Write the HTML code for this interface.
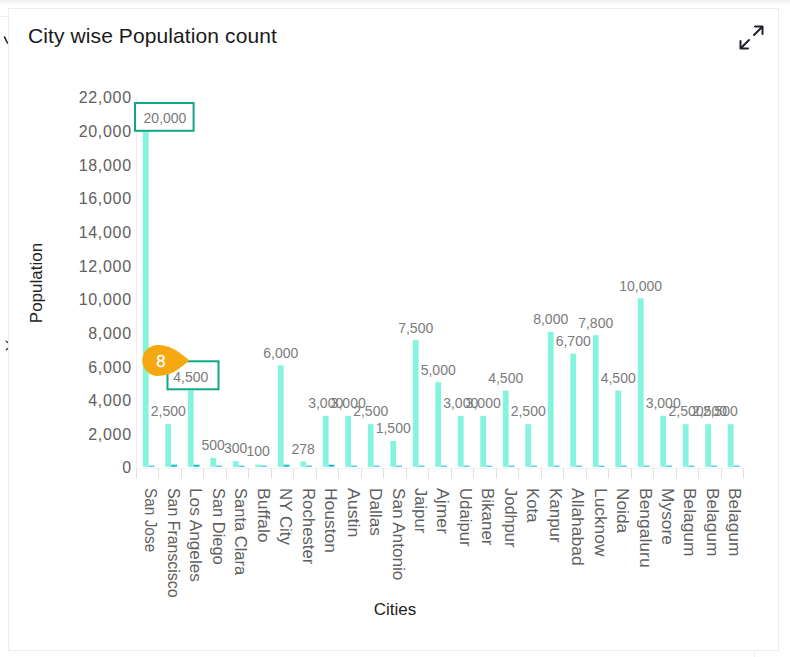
<!DOCTYPE html>
<html><head><meta charset="utf-8"><style>
html,body{margin:0;padding:0;background:#fff;}
body{width:790px;height:657px;position:relative;overflow:hidden;font-family:"Liberation Sans",sans-serif;}
.topbar{position:absolute;left:0;top:0;width:790px;height:5px;background:linear-gradient(#efefef,#f4f4f4 30%,#fff);}
.hline{position:absolute;left:0;top:16px;width:8px;height:1px;background:#eef0f0;}
.vline{position:absolute;left:754px;top:651px;width:1px;height:6px;background:#eef0f0;}
.card{position:absolute;left:8px;top:8px;width:769px;height:641px;border:1px solid #eceeee;background:#fff;}
.title{position:absolute;left:28px;top:24px;font-size:21px;letter-spacing:0.1px;color:#1a1a1a;white-space:nowrap;line-height:24px;}
svg.chart{position:absolute;left:0;top:0;}
.yl{font-family:"Liberation Sans",sans-serif;font-size:16px;fill:#606060;text-anchor:end;letter-spacing:0.7px;}
.xl{font-family:"Liberation Sans",sans-serif;font-size:16.5px;fill:#606060;}
.dl{font-family:"Liberation Sans",sans-serif;font-size:14px;fill:#7b7b7b;text-anchor:middle;}
.dr{font-family:"Liberation Sans",sans-serif;font-size:16.8px;fill:#fff;stroke:#fff;stroke-width:0.3px;text-anchor:middle;}
.at{font-family:"Liberation Sans",sans-serif;font-size:17px;fill:#222;}
.mark{position:absolute;}
</style></head><body>
<div class="topbar"></div>
<div class="hline"></div>
<div class="vline"></div>
<svg class="mark" style="left:3px;top:35px" width="6" height="10" viewBox="0 0 6 10"><path d="M1.5 2 L4.5 8" stroke="#222" stroke-width="1.6" stroke-linecap="round"/></svg>
<svg class="mark" style="left:3px;top:339px" width="6" height="14" viewBox="0 0 6 14"><path d="M3.3 2.3 L4.8 3.6 M4.8 9.4 L3.3 10.7" stroke="#333" stroke-width="1.3" stroke-linecap="round"/></svg>
<div class="card"></div>
<div class="title">City wise Population count</div>
<svg class="mark" style="left:732px;top:18px" width="40" height="40" viewBox="0 0 40 40" fill="none" stroke="#1f2329" stroke-width="2" stroke-linecap="round" stroke-linejoin="round">
<path d="M23 8.5 H30.5 V16 M30.5 8.5 L22 17"/>
<path d="M16 30.5 H8.5 V23 M8.5 30.5 L17 22"/>
</svg>
<svg class="chart" width="790" height="657" viewBox="0 0 790 657">
<text x="131.8" y="473.4" class="yl">0</text>
<text x="131.8" y="439.8" class="yl">2,000</text>
<text x="131.8" y="406.1" class="yl">4,000</text>
<text x="131.8" y="372.5" class="yl">6,000</text>
<text x="131.8" y="338.9" class="yl">8,000</text>
<text x="131.8" y="305.2" class="yl">10,000</text>
<text x="131.8" y="271.6" class="yl">12,000</text>
<text x="131.8" y="237.9" class="yl">14,000</text>
<text x="131.8" y="204.3" class="yl">16,000</text>
<text x="131.8" y="170.7" class="yl">18,000</text>
<text x="131.8" y="137.0" class="yl">20,000</text>
<text x="131.8" y="103.4" class="yl">22,000</text>
<rect x="136" y="97" width="1" height="371.7" fill="#f0f0f0"/>
<rect x="136" y="468" width="608.7" height="1" fill="#f3f3f3"/>
<rect x="136" y="468" width="1" height="10" fill="#e0e0e0"/>
<rect x="158" y="468" width="1" height="10" fill="#e0e0e0"/>
<rect x="181" y="468" width="1" height="10" fill="#e0e0e0"/>
<rect x="203" y="468" width="1" height="10" fill="#e0e0e0"/>
<rect x="226" y="468" width="1" height="10" fill="#e0e0e0"/>
<rect x="248" y="468" width="1" height="10" fill="#e0e0e0"/>
<rect x="271" y="468" width="1" height="10" fill="#e0e0e0"/>
<rect x="293" y="468" width="1" height="10" fill="#e0e0e0"/>
<rect x="316" y="468" width="1" height="10" fill="#e0e0e0"/>
<rect x="338" y="468" width="1" height="10" fill="#e0e0e0"/>
<rect x="361" y="468" width="1" height="10" fill="#e0e0e0"/>
<rect x="383" y="468" width="1" height="10" fill="#e0e0e0"/>
<rect x="406" y="468" width="1" height="10" fill="#e0e0e0"/>
<rect x="428" y="468" width="1" height="10" fill="#e0e0e0"/>
<rect x="451" y="468" width="1" height="10" fill="#e0e0e0"/>
<rect x="473" y="468" width="1" height="10" fill="#e0e0e0"/>
<rect x="496" y="468" width="1" height="10" fill="#e0e0e0"/>
<rect x="518" y="468" width="1" height="10" fill="#e0e0e0"/>
<rect x="541" y="468" width="1" height="10" fill="#e0e0e0"/>
<rect x="563" y="468" width="1" height="10" fill="#e0e0e0"/>
<rect x="586" y="468" width="1" height="10" fill="#e0e0e0"/>
<rect x="608" y="468" width="1" height="10" fill="#e0e0e0"/>
<rect x="631" y="468" width="1" height="10" fill="#e0e0e0"/>
<rect x="653" y="468" width="1" height="10" fill="#e0e0e0"/>
<rect x="676" y="468" width="1" height="10" fill="#e0e0e0"/>
<rect x="698" y="468" width="1" height="10" fill="#e0e0e0"/>
<rect x="721" y="468" width="1" height="10" fill="#e0e0e0"/>
<rect x="743" y="468" width="1" height="10" fill="#e0e0e0"/>
<rect x="142.84" y="130.20" width="5.8" height="336.60" fill="#85f4de"/>
<rect x="148.64" y="465.70" width="5.9" height="1" fill="#13b7d3"/>
<rect x="165.34" y="424.20" width="5.8" height="42.60" fill="#85f4de"/>
<rect x="171.14" y="464.70" width="5.9" height="2" fill="#13b7d3"/>
<rect x="187.84" y="390.60" width="5.8" height="76.20" fill="#85f4de"/>
<rect x="193.64" y="464.70" width="5.9" height="2" fill="#13b7d3"/>
<rect x="210.33" y="457.80" width="5.8" height="9.00" fill="#85f4de"/>
<rect x="216.13" y="465.70" width="5.9" height="1" fill="#13b7d3"/>
<rect x="232.83" y="461.16" width="5.8" height="5.64" fill="#85f4de"/>
<rect x="238.63" y="465.70" width="5.9" height="1" fill="#13b7d3"/>
<rect x="255.33" y="464.52" width="5.8" height="2.28" fill="#85f4de"/>
<rect x="261.13" y="465.70" width="5.9" height="1" fill="#13b7d3"/>
<rect x="277.83" y="365.40" width="5.8" height="101.40" fill="#85f4de"/>
<rect x="283.63" y="464.70" width="5.9" height="2" fill="#13b7d3"/>
<rect x="300.33" y="461.53" width="5.8" height="5.27" fill="#85f4de"/>
<rect x="306.13" y="465.70" width="5.9" height="1" fill="#13b7d3"/>
<rect x="322.82" y="415.80" width="5.8" height="51.00" fill="#85f4de"/>
<rect x="328.62" y="464.70" width="5.9" height="2" fill="#13b7d3"/>
<rect x="345.32" y="415.80" width="5.8" height="51.00" fill="#85f4de"/>
<rect x="351.12" y="465.70" width="5.9" height="1" fill="#13b7d3"/>
<rect x="367.82" y="424.20" width="5.8" height="42.60" fill="#85f4de"/>
<rect x="373.62" y="465.70" width="5.9" height="1" fill="#13b7d3"/>
<rect x="390.32" y="441.00" width="5.8" height="25.80" fill="#85f4de"/>
<rect x="396.12" y="465.70" width="5.9" height="1" fill="#13b7d3"/>
<rect x="412.82" y="340.20" width="5.8" height="126.60" fill="#85f4de"/>
<rect x="418.62" y="465.70" width="5.9" height="1" fill="#13b7d3"/>
<rect x="435.31" y="382.20" width="5.8" height="84.60" fill="#85f4de"/>
<rect x="441.11" y="465.70" width="5.9" height="1" fill="#13b7d3"/>
<rect x="457.81" y="415.80" width="5.8" height="51.00" fill="#85f4de"/>
<rect x="463.61" y="465.70" width="5.9" height="1" fill="#13b7d3"/>
<rect x="480.31" y="415.80" width="5.8" height="51.00" fill="#85f4de"/>
<rect x="486.11" y="465.70" width="5.9" height="1" fill="#13b7d3"/>
<rect x="502.81" y="390.60" width="5.8" height="76.20" fill="#85f4de"/>
<rect x="508.61" y="465.70" width="5.9" height="1" fill="#13b7d3"/>
<rect x="525.31" y="424.20" width="5.8" height="42.60" fill="#85f4de"/>
<rect x="531.11" y="465.70" width="5.9" height="1" fill="#13b7d3"/>
<rect x="547.80" y="331.80" width="5.8" height="135.00" fill="#85f4de"/>
<rect x="553.60" y="465.70" width="5.9" height="1" fill="#13b7d3"/>
<rect x="570.30" y="353.64" width="5.8" height="113.16" fill="#85f4de"/>
<rect x="576.10" y="465.70" width="5.9" height="1" fill="#13b7d3"/>
<rect x="592.80" y="335.16" width="5.8" height="131.64" fill="#85f4de"/>
<rect x="598.60" y="465.70" width="5.9" height="1" fill="#13b7d3"/>
<rect x="615.30" y="390.60" width="5.8" height="76.20" fill="#85f4de"/>
<rect x="621.10" y="465.70" width="5.9" height="1" fill="#13b7d3"/>
<rect x="637.80" y="298.20" width="5.8" height="168.60" fill="#85f4de"/>
<rect x="643.60" y="465.70" width="5.9" height="1" fill="#13b7d3"/>
<rect x="660.29" y="415.80" width="5.8" height="51.00" fill="#85f4de"/>
<rect x="666.09" y="465.70" width="5.9" height="1" fill="#13b7d3"/>
<rect x="682.79" y="424.20" width="5.8" height="42.60" fill="#85f4de"/>
<rect x="688.59" y="465.70" width="5.9" height="1" fill="#13b7d3"/>
<rect x="705.29" y="424.20" width="5.8" height="42.60" fill="#85f4de"/>
<rect x="711.09" y="465.70" width="5.9" height="1" fill="#13b7d3"/>
<rect x="727.79" y="424.20" width="5.8" height="42.60" fill="#85f4de"/>
<rect x="733.59" y="465.70" width="5.9" height="1" fill="#13b7d3"/>
<text x="168.24" y="416.3" class="dl">2,500</text>
<text x="213.23" y="449.7" class="dl">500</text>
<text x="235.73" y="453.1" class="dl">300</text>
<text x="258.23" y="456.4" class="dl">100</text>
<text x="280.73" y="357.8" class="dl">6,000</text>
<text x="303.23" y="453.5" class="dl">278</text>
<text x="325.72" y="407.9" class="dl">3,000</text>
<text x="348.22" y="407.9" class="dl">3,000</text>
<text x="370.72" y="416.3" class="dl">2,500</text>
<text x="393.22" y="433.0" class="dl">1,500</text>
<text x="415.72" y="332.7" class="dl">7,500</text>
<text x="438.21" y="374.5" class="dl">5,000</text>
<text x="460.71" y="407.9" class="dl">3,000</text>
<text x="483.21" y="407.9" class="dl">3,000</text>
<text x="505.71" y="382.9" class="dl">4,500</text>
<text x="528.21" y="416.3" class="dl">2,500</text>
<text x="550.70" y="324.4" class="dl">8,000</text>
<text x="573.20" y="346.1" class="dl">6,700</text>
<text x="595.70" y="327.7" class="dl">7,800</text>
<text x="618.20" y="382.9" class="dl">4,500</text>
<text x="640.70" y="290.9" class="dl">10,000</text>
<text x="663.19" y="407.9" class="dl">3,000</text>
<text x="686.00" y="416.3" class="dl">2,500</text>
<text x="709.60" y="416.3" class="dl">2,500</text>
<text x="720.20" y="416.3" class="dl">2,500</text>
<rect x="135" y="103" width="58.6" height="27.8" fill="#fff" stroke="#10a788" stroke-width="2"/>
<text x="165" y="123" class="dl">20,000</text>
<rect x="167.5" y="361.3" width="51" height="28" fill="#fff" stroke="#10a788" stroke-width="2"/>
<text x="190.8" y="382.2" class="dl">4,500</text>
<path d="M189.5 360.4 C182 355 174 346 159.5 345 A15.5 15.5 0 1 0 159.5 375.8 C174 375 182 366 189.5 360.4 Z" fill="#f5a80f"/>
<text x="161" y="366.9" class="dr">8</text>
<text transform="translate(145.49,488.0) rotate(90)" class="xl" textLength="64.2" lengthAdjust="spacingAndGlyphs">San Jose</text>
<text transform="translate(167.95,488.0) rotate(90)" class="xl" textLength="109.6" lengthAdjust="spacingAndGlyphs">San Franscisco</text>
<text transform="translate(190.41,488.0) rotate(90)" class="xl" textLength="94.0" lengthAdjust="spacingAndGlyphs">Los Angeles</text>
<text transform="translate(212.86,488.0) rotate(90)" class="xl" textLength="76.7" lengthAdjust="spacingAndGlyphs">San Diego</text>
<text transform="translate(235.32,488.0) rotate(90)" class="xl" textLength="87.2" lengthAdjust="spacingAndGlyphs">Santa Clara</text>
<text transform="translate(257.78,488.0) rotate(90)" class="xl" textLength="54.7" lengthAdjust="spacingAndGlyphs">Buffalo</text>
<text transform="translate(280.24,488.0) rotate(90)" class="xl" textLength="57.0" lengthAdjust="spacingAndGlyphs">NY City</text>
<text transform="translate(302.70,488.0) rotate(90)" class="xl" textLength="76.4" lengthAdjust="spacingAndGlyphs">Rochester</text>
<text transform="translate(325.15,488.0) rotate(90)" class="xl" textLength="64.9" lengthAdjust="spacingAndGlyphs">Houston</text>
<text transform="translate(347.61,488.0) rotate(90)" class="xl" textLength="49.3" lengthAdjust="spacingAndGlyphs">Austin</text>
<text transform="translate(370.07,488.0) rotate(90)" class="xl" textLength="47.9" lengthAdjust="spacingAndGlyphs">Dallas</text>
<text transform="translate(392.53,488.0) rotate(90)" class="xl" textLength="92.2" lengthAdjust="spacingAndGlyphs">San Antonio</text>
<text transform="translate(414.99,488.0) rotate(90)" class="xl" textLength="45.3" lengthAdjust="spacingAndGlyphs">Jaipur</text>
<text transform="translate(437.44,488.0) rotate(90)" class="xl" textLength="46.0" lengthAdjust="spacingAndGlyphs">Ajmer</text>
<text transform="translate(459.90,488.0) rotate(90)" class="xl" textLength="58.7" lengthAdjust="spacingAndGlyphs">Udaipur</text>
<text transform="translate(482.36,488.0) rotate(90)" class="xl" textLength="57.5" lengthAdjust="spacingAndGlyphs">Bikaner</text>
<text transform="translate(504.82,488.0) rotate(90)" class="xl" textLength="59.5" lengthAdjust="spacingAndGlyphs">Jodhpur</text>
<text transform="translate(527.28,488.0) rotate(90)" class="xl" textLength="34.5" lengthAdjust="spacingAndGlyphs">Kota</text>
<text transform="translate(549.73,488.0) rotate(90)" class="xl" textLength="54.7" lengthAdjust="spacingAndGlyphs">Kanpur</text>
<text transform="translate(572.19,488.0) rotate(90)" class="xl" textLength="77.7" lengthAdjust="spacingAndGlyphs">Allahabad</text>
<text transform="translate(594.65,488.0) rotate(90)" class="xl" textLength="68.4" lengthAdjust="spacingAndGlyphs">Lucknow</text>
<text transform="translate(617.11,488.0) rotate(90)" class="xl" textLength="45.1" lengthAdjust="spacingAndGlyphs">Noida</text>
<text transform="translate(639.57,488.0) rotate(90)" class="xl" textLength="79.6" lengthAdjust="spacingAndGlyphs">Bengaluru</text>
<text transform="translate(662.02,488.0) rotate(90)" class="xl" textLength="56.9" lengthAdjust="spacingAndGlyphs">Mysore</text>
<text transform="translate(684.48,488.0) rotate(90)" class="xl" textLength="68.4" lengthAdjust="spacingAndGlyphs">Belagum</text>
<text transform="translate(706.94,488.0) rotate(90)" class="xl" textLength="68.4" lengthAdjust="spacingAndGlyphs">Belagum</text>
<text transform="translate(729.40,488.0) rotate(90)" class="xl" textLength="68.4" lengthAdjust="spacingAndGlyphs">Belagum</text>
<text transform="translate(42.4,283) rotate(-90)" class="at" text-anchor="middle">Population</text>
<text x="395" y="615" class="at" text-anchor="middle">Cities</text>
</svg>
</body></html>
